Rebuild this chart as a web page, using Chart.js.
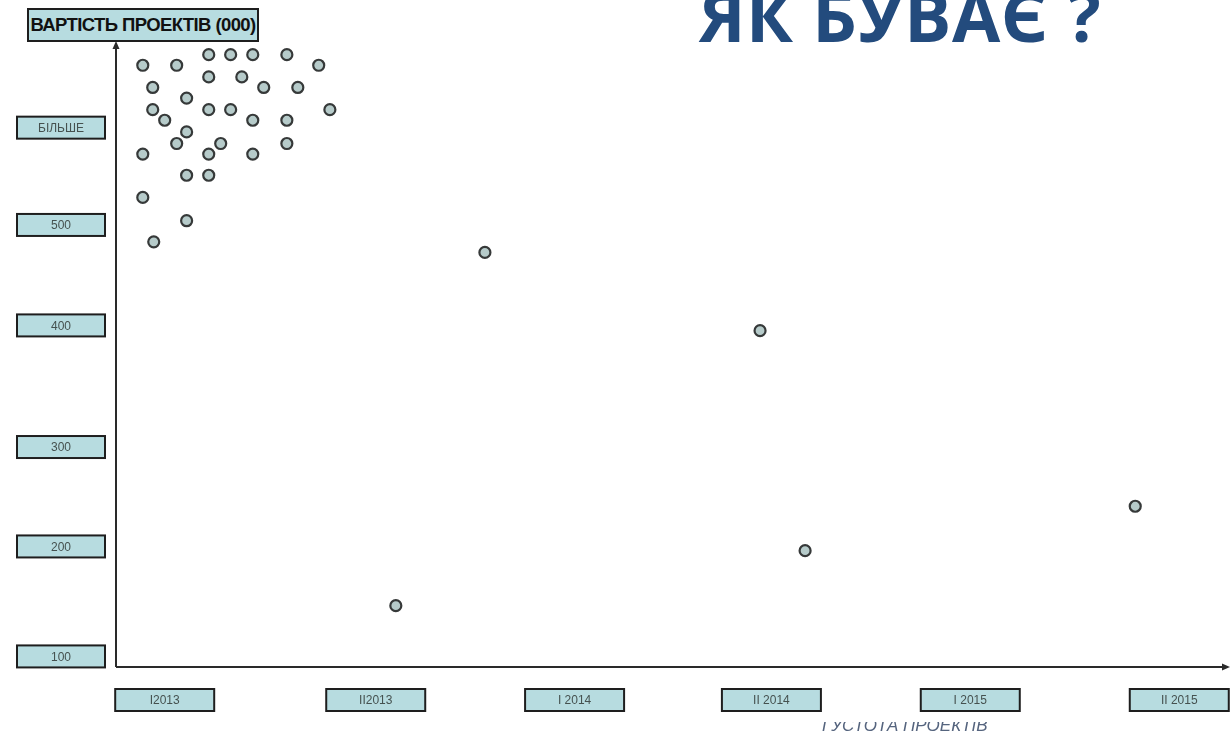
<!DOCTYPE html>
<html>
<head>
<meta charset="utf-8">
<title>ЯК БУВАЄ ?</title>
<script src="https://cdn.jsdelivr.net/npm/chart.js@4/dist/chart.umd.min.js"></script>
<style>
  html, body { margin: 0; padding: 0; background: #fff; }
  #wrap { position: relative; width: 1230px; height: 736px; overflow: hidden; }
  #chart { position: absolute; left: 0; top: 0; }
  #headline {
    position: absolute; left: 699px; top: -20px;
    font-family: "Open Sans", sans-serif; font-weight: 700; font-size: 70px;
    letter-spacing: 0.5px;
    color: #234b7d; white-space: nowrap; line-height: 1;
  }
  #yTitle {
    position: absolute; left: 27px; top: 8px; width: 228px; height: 30px;
    border: 2px solid #1e1e1e; background: #b7dce0;
    font-family: "Liberation Sans", Arial, sans-serif; font-weight: 700; font-size: 18.5px;
    letter-spacing: -0.6px; color: #111; line-height: 30px; text-align: center;
    white-space: nowrap; overflow: hidden;
  }
  #xTitleClip {
    position: absolute; left: 800px; top: 722px; width: 220px; height: 14px; overflow: hidden;
  }
  #xTitle {
    position: absolute; left: 22px; top: -5px;
    font-family: "Liberation Sans", Arial, sans-serif; font-style: italic; font-size: 17px;
    color: #55647e; white-space: nowrap; line-height: 1;
  }
</style>
</head>
<body>
<div id="wrap">
  <canvas id="chart" width="1230" height="736"></canvas>
  <div id="headline">ЯК БУВАЄ ?</div>
  <div id="yTitle">ВАРТІСТЬ ПРОЕКТІВ (000)</div>
  <div id="xTitleClip"><div id="xTitle">ГУСТОТА ПРОЕКТІВ</div></div>
</div>
<script>
// periods along the x axis (box positions in period units)
const periodLabels = ['I2013', 'II2013', 'I 2014', 'II 2014', 'I 2015', 'II 2015'];
const periodTicks = [0, 1.04, 2.02, 2.99, 3.97, 5.0];

// value boxes on the y axis (thousands)
const valueLabels = ['100', '200', '300', '400', '500', 'БІЛЬШЕ'];
const valueTicks = [100, 204, 298, 413, 508, 600];

// projects: period position and cost
const projectX = [
  0.217, 0.325, 0.434, 0.602,
  -0.108, 0.059, 0.759,
  0.217, 0.380,
  -0.059, 0.488, 0.656,
  0.108,
  -0.059, 0.217, 0.325, 0.814,
  0.0, 0.434, 0.602,
  0.108,
  0.059, 0.276, 0.602,
  -0.108, 0.217, 0.434,
  0.108, 0.217,
  -0.108,
  0.108,
  -0.054,
  1.578, 1.139, 2.934, 3.156, 4.783
];
const projectCost = [
  669, 669, 669, 669,
  659, 659, 659,
  648, 648,
  638, 638, 638,
  628,
  617, 617, 617, 617,
  607, 607, 607,
  596,
  585, 585, 585,
  575, 575, 575,
  555, 555,
  534,
  512,
  492,
  482, 148, 408, 200, 242
];

const boxFill = '#b7dce0';
const boxLine = '#1e1e1e';

function drawBox(ctx, cx, cy, w, h, text) {
  ctx.fillStyle = boxFill;
  ctx.fillRect(cx - w / 2, cy - h / 2, w, h);
  ctx.lineWidth = 2;
  ctx.strokeStyle = boxLine;
  ctx.strokeRect(cx - w / 2, cy - h / 2, w, h);
  ctx.fillStyle = '#45514f';
  ctx.font = '12px "Liberation Sans", Arial, sans-serif';
  ctx.textAlign = 'center';
  ctx.textBaseline = 'middle';
  ctx.fillText(text, cx, cy + 1);
}

const axesPlugin = {
  id: 'boxedAxes',
  beforeDatasetsDraw(chart) {
    const { ctx, chartArea, scales } = chart;
    ctx.save();
    // axis lines with arrow heads
    ctx.strokeStyle = '#2a2a2a';
    ctx.fillStyle = '#2a2a2a';
    ctx.lineWidth = 2;
    ctx.beginPath();
    ctx.moveTo(chartArea.left, chartArea.bottom);
    ctx.lineTo(chartArea.left, chartArea.top + 4);
    ctx.moveTo(chartArea.left, chartArea.bottom);
    ctx.lineTo(chartArea.right - 4, chartArea.bottom);
    ctx.stroke();
    ctx.beginPath();
    ctx.moveTo(chartArea.left, chartArea.top - 1);
    ctx.lineTo(chartArea.left - 3.5, chartArea.top + 7);
    ctx.lineTo(chartArea.left + 3.5, chartArea.top + 7);
    ctx.closePath();
    ctx.fill();
    ctx.beginPath();
    ctx.moveTo(chartArea.right, chartArea.bottom);
    ctx.lineTo(chartArea.right - 8, chartArea.bottom - 3.5);
    ctx.lineTo(chartArea.right - 8, chartArea.bottom + 3.5);
    ctx.closePath();
    ctx.fill();

    // y boxes
    valueTicks.forEach((v, i) => {
      const py = scales.y.getPixelForValue(v);
      drawBox(ctx, 61, py, 88, 22, valueLabels[i]);
    });
    // x boxes
    periodTicks.forEach((v, i) => {
      const px = scales.x.getPixelForValue(v);
      drawBox(ctx, px, chartArea.bottom + 33, 99, 22, periodLabels[i]);
    });
    ctx.restore();
  }
};

new Chart(document.getElementById('chart'), {
  type: 'scatter',
  data: {
    datasets: [{
      label: 'Проекти',
      data: projectX.map((x, i) => ({ x: x, y: projectCost[i] })),
      pointRadius: 5.5,
      pointHoverRadius: 5.5,
      pointBorderWidth: 2.2,
      pointBorderColor: '#363939',
      pointBackgroundColor: '#b6cbca'
    }]
  },
  options: {
    responsive: false,
    animation: false,
    layout: { autoPadding: false, padding: { left: 116, top: 42, right: 0, bottom: 69 } },
    plugins: {
      legend: { display: false },
      tooltip: { enabled: false }
    },
    scales: {
      x: { type: 'linear', min: -0.24, max: 5.25, display: false },
      y: { type: 'linear', min: 90, max: 681, display: false }
    }
  },
  plugins: [axesPlugin]
});
</script>
</body>
</html>
